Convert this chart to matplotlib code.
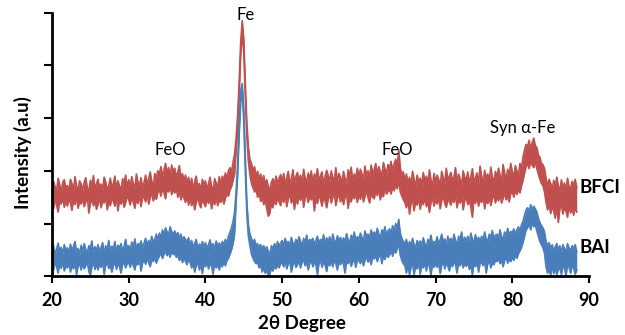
import numpy as np
import matplotlib.pyplot as plt

# 2-theta positions, 20.0 to 88.4 in 0.2 degree steps
two_theta = np.round(np.arange(20.0, 88.41, 0.2), 1)

# BFCI noise band, top and bottom edge (intensity x100), one row per 2 degrees
bfci_top = [
    165, 180, 170, 162, 186, 174, 160, 178, 183, 167,
    172, 161, 184, 176, 163, 189, 170, 166, 181, 175,
    163, 178, 187, 168, 160, 182, 173, 191, 165, 176,
    184, 167, 175, 162, 188, 179, 164, 172, 186, 169,
    176, 190, 166, 181, 171, 163, 185, 177, 192, 168,
    183, 170, 189, 175, 166, 194, 179, 172, 187, 168,
    178, 192, 174, 185, 198, 180, 171, 195, 186, 200,
    194, 208, 189, 202, 214, 196, 206, 190, 211, 199,
    205, 188, 198, 210, 185, 195, 180, 192, 176, 188,
    172, 186, 165, 180, 190, 168, 176, 163, 184, 174,
    181, 166, 175, 188, 170, 163, 185, 177, 168, 189,
    175, 190, 182, 196, 185, 200, 206, 198, 216, 232,
    262, 305, 370, 445, 485, 450, 365, 290, 245, 222,
    214, 200, 208, 190, 199, 184, 194, 180, 191, 176,
    183, 170, 164, 178, 185, 172, 190, 176, 186, 193,
    180, 195, 172, 188, 199, 176, 185, 202, 178, 190,
    197, 181, 192, 175, 203, 186, 178, 196, 184, 200,
    176, 194, 186, 204, 180, 191, 198, 174, 189, 201,
    192, 178, 200, 187, 183, 206, 179, 195, 188, 176,
    199, 185, 176, 202, 190, 207, 181, 194, 186, 205,
    188, 203, 195, 182, 209, 191, 200, 186, 211, 197,
    202, 214, 193, 208, 199, 190, 216, 204, 195, 212,
    205, 218, 200, 213, 222, 208, 240, 206, 194, 198,
    181, 194, 176, 188, 172, 199, 184, 170, 192, 178,
    186, 173, 197, 181, 190, 176, 202, 183, 171, 195,
    178, 192, 184, 171, 199, 187, 176, 205, 182, 190,
    197, 180, 189, 206, 176, 194, 185, 172, 200, 188,
    183, 198, 174, 190, 204, 179, 187, 196, 175, 209,
    190, 177, 201, 185, 194, 181, 207, 188, 178, 199,
    186, 205, 192, 180, 212, 196, 184, 203, 193, 214,
    198, 187, 210, 200, 192, 214, 206, 226, 240, 250,
    246, 258, 242, 254, 262, 248, 244, 230, 226, 214,
    212, 204, 186, 170, 184, 176, 165, 182, 171, 188,
    172, 160, 183, 168, 177, 162, 186, 170, 166, 180,
    171, 184, 168,
]
bfci_bottom = [
    140, 128, 146, 135, 122, 143, 137, 150, 131, 144,
    133, 147, 139, 125, 145, 136, 151, 129, 142, 137,
    148, 132, 141, 152, 120, 138, 146, 134, 143, 127,
    136, 149, 130, 144, 139, 152, 126, 141, 134, 147,
    142, 133, 150, 124, 145, 137, 148, 131, 140, 153,
    145, 135, 152, 140, 129, 147, 138, 155, 132, 149,
    150, 141, 156, 137, 149, 158, 143, 152, 146, 160,
    163, 152, 168, 158, 147, 166, 160, 171, 155, 165,
    158, 166, 150, 161, 145, 156, 148, 140, 153, 135,
    148, 134, 145, 126, 140, 151, 137, 130, 146, 139,
    132, 147, 138, 150, 128, 143, 136, 149, 134, 145,
    140, 150, 137, 148, 156, 152, 164, 170, 182, 194,
    238, 280, 345, 420, 462, 425, 340, 265, 218, 192,
    176, 168, 160, 165, 150, 158, 142, 150, 136, 145,
    128, 114, 120, 138, 130, 145, 136, 149, 141, 134,
    150, 140, 155, 132, 147, 156, 139, 151, 127, 148,
    137, 153, 144, 157, 131, 149, 155, 140, 152, 145,
    155, 124, 148, 138, 156, 145, 133, 151, 143, 130,
    146, 156, 139, 150, 158, 134, 149, 155, 141, 152,
    136, 150, 157, 129, 148, 141, 155, 147, 158, 140,
    155, 146, 160, 141, 152, 162, 149, 139, 157, 150,
    147, 162, 153, 166, 145, 158, 151, 168, 156, 161,
    165, 156, 170, 162, 174, 166, 182, 160, 152, 145,
    140, 130, 146, 118, 138, 147, 124, 142, 135, 150,
    127, 145, 136, 150, 132, 143, 121, 140, 148, 133,
    146, 137, 151, 128, 144, 152, 138, 131, 147, 141,
    135, 148, 140, 154, 130, 146, 139, 151, 126, 144,
    149, 136, 145, 131, 112, 147, 138, 152, 133, 146,
    140, 153, 128, 145, 138, 150, 134, 147, 155, 139,
    151, 143, 156, 139, 148, 158, 145, 152, 141, 157,
    160, 150, 163, 155, 166, 158, 172, 182, 196, 208,
    214, 204, 220, 210, 206, 218, 204, 194, 184, 176,
    172, 160, 140, 126, 138, 119, 132, 124, 110, 135,
    102, 128, 136, 118, 131, 124, 112, 134, 120, 129,
    116, 130, 122,
]

# BAI noise band, top and bottom edge (intensity x100)
bai_top = [
    45, 58, 40, 52, 63, 47, 55, 42, 60, 50,
    54, 43, 61, 49, 57, 66, 46, 53, 41, 59,
    48, 62, 51, 44, 58, 53, 67, 45, 56, 50,
    60, 47, 55, 64, 43, 58, 51, 68, 49, 57,
    52, 66, 46, 59, 54, 62, 48, 57, 70, 53,
    58, 49, 65, 55, 71, 51, 62, 57, 67, 54,
    63, 72, 58, 68, 61, 76, 66, 70, 80, 68,
    82, 74, 88, 79, 92, 84, 78, 94, 85, 80,
    86, 77, 83, 72, 80, 68, 75, 70, 66, 73,
    60, 68, 54, 63, 70, 52, 61, 57, 66, 55,
    64, 53, 60, 69, 55, 62, 51, 67, 58, 63,
    56, 66, 60, 70, 64, 76, 84, 92, 104, 122,
    160, 215, 290, 352, 366, 315, 225, 140, 98, 80,
    72, 64, 70, 58, 62, 55, 60, 52, 58, 50,
    56, 47, 42, 58, 52, 62, 54, 66, 58, 63,
    68, 58, 72, 62, 66, 56, 74, 63, 60, 70,
    63, 75, 66, 58, 72, 64, 78, 60, 70, 67,
    72, 60, 68, 76, 62, 70, 65, 79, 61, 73,
    66, 75, 62, 80, 68, 63, 77, 67, 74, 64,
    73, 65, 81, 69, 64, 78, 70, 84, 67, 75,
    70, 82, 74, 68, 86, 76, 80, 72, 88, 78,
    84, 76, 91, 80, 73, 88, 82, 94, 78, 86,
    90, 82, 96, 86, 100, 92, 108, 82, 72, 66,
    62, 70, 56, 66, 58, 72, 60, 55, 68, 61,
    67, 58, 73, 62, 56, 70, 64, 78, 60, 66,
    63, 75, 61, 69, 80, 64, 71, 58, 76, 66,
    72, 62, 80, 68, 60, 76, 70, 84, 65, 74,
    67, 76, 63, 82, 70, 64, 79, 68, 74, 66,
    76, 68, 84, 71, 66, 80, 73, 87, 70, 78,
    80, 72, 88, 75, 70, 84, 77, 91, 79, 85,
    83, 90, 80, 88, 94, 86, 98, 104, 116, 126,
    130, 122, 136, 126, 133, 128, 122, 110, 102, 96,
    92, 84, 66, 58, 64, 52, 60, 48, 56, 62,
    50, 58, 45, 60, 52, 47, 62, 54, 48, 58,
    52, 60, 47,
]
bai_bottom = [
    22, 12, 28, 18, 6, 24, 15, 30, 10, 20,
    16, 26, 8, 21, 14, 27, 3, 19, 24, 12,
    25, 14, 20, 29, 9, 2, 18, 26, 13, 22,
    12, 24, 17, 28, 4, 21, 26, 15, 20, 8,
    20, 28, 13, 24, 18, 6, 22, 27, 16, 24,
    26, 17, 29, 20, 12, 27, 22, 31, 10, 25,
    30, 23, 34, 26, 18, 32, 28, 36, 25, 33,
    38, 45, 34, 42, 48, 39, 46, 36, 50, 41,
    44, 36, 40, 30, 38, 26, 34, 28, 22, 32,
    26, 16, 24, 8, 20, 28, 12, 22, 5, 25,
    18, 27, 14, 24, 20, 4, 26, 16, 22, 12,
    24, 18, 28, 20, 30, 34, 42, 50, 62, 80,
    140, 192, 268, 330, 350, 292, 200, 118, 76, 58,
    42, 34, 28, 24, 26, 16, 22, 8, 16, 6,
    12, 0, 4, 16, 10, 20, 14, 22, 16, 24,
    26, 18, 30, 14, 24, 28, 8, 22, 29, 17,
    22, 30, 16, 26, 32, 20, 28, 12, 25, 30,
    18, 27, 22, 3, 24, 30, 17, 28, 21, 9,
    26, 20, 30, 18, 32, 24, 12, 28, 22, 31,
    22, 6, 28, 24, 32, 19, 27, 33, 17, 30,
    30, 24, 34, 20, 31, 36, 27, 34, 22, 37,
    33, 40, 28, 37, 42, 24, 39, 32, 43, 36,
    41, 48, 38, 50, 44, 53, 60, 40, 30, 24,
    20, 6, 24, 2, 18, 23, 3, 20, 14, 26,
    4, 22, 16, 26, 10, 27, 18, 2, 23, 17,
    24, 17, 27, 5, 21, 28, 14, 25, 19, 10,
    26, 18, 29, 22, 6, 27, 20, 30, 16, 25,
    19, 28, 13, 23, 2, 26, 18, 29, 8, 24,
    27, 20, 30, 6, 24, 29, 16, 25, 22, 30,
    28, 33, 24, 31, 18, 30, 36, 25, 32, 28,
    36, 30, 40, 34, 43, 48, 55, 64, 76, 88,
    92, 100, 88, 102, 94, 98, 86, 76, 66, 60,
    54, 44, 18, 6, 14, 2, 20, 5, 16, 3,
    12, 18, 3, 20, 15, 0, 22, 17, 6, 19,
    16, 4, 12,
]

# peak labels: (text, 2theta, height)
peak_labels = [("Fe", 45.3, 4.96), ("FeO", 35.4, 2.39), ("FeO", 65.0, 2.39), ("Syn α-Fe", 81.3, 2.81)]
series_names = ["BFCI", "BAI"]
series_label_y = [1.68, 0.54]

plt.rcParams['font.family'] = ['Lato', 'DejaVu Sans']

fig = plt.figure(figsize=(6.25, 3.35), dpi=100)
ax = fig.add_axes([0.0832, 0.1752, 0.8592, 0.787])

# draw each noisy trace as a filled band with its edges stroked
bands = [(bfci_top, bfci_bottom, '#C0504D'), (bai_top, bai_bottom, '#4A7EBB')]
for top, bottom, color in bands:
    top = np.array(top) / 100
    bottom = np.array(bottom) / 100
    ax.fill_between(two_theta, bottom, top, color=color, lw=0)
    ax.plot(two_theta, top, color=color, lw=1.2)
    ax.plot(two_theta, bottom, color=color, lw=1.2)

for text, x, y in peak_labels:
    ax.text(x, y, text, ha='center', va='center', fontsize=12)
for name, y in zip(series_names, series_label_y):
    ax.text(88.8, y, name, ha='left', va='center', fontsize=13.5, fontweight='bold', clip_on=False)

ax.set_xlim(20, 90)
ax.set_ylim(0, 5)
ax.set_xticks(range(20, 91, 10))
ax.set_yticks(range(0, 6))
ax.set_yticklabels([])
for lbl in ax.get_xticklabels():
    lbl.set_fontweight('bold')
ax.tick_params(axis='x', direction='out', length=5, width=1.5, labelsize=13, pad=6)
ax.tick_params(axis='y', direction='out', length=6, width=1.5)

for side in ['top', 'right']:
    ax.spines[side].set_visible(False)
for side in ['left', 'bottom']:
    ax.spines[side].set_linewidth(2)

# axis titles
fig.text(23 / 625, 1 - 153 / 335, 'Intensity (a.u)', rotation=90, ha='center', va='center',
         fontsize=13.5, fontweight='bold')
fig.text(302 / 625, 1 - 323 / 335, '2θ Degree', ha='center', va='center', fontsize=13.5, fontweight='bold')

fig.savefig('out.png', dpi=100)
